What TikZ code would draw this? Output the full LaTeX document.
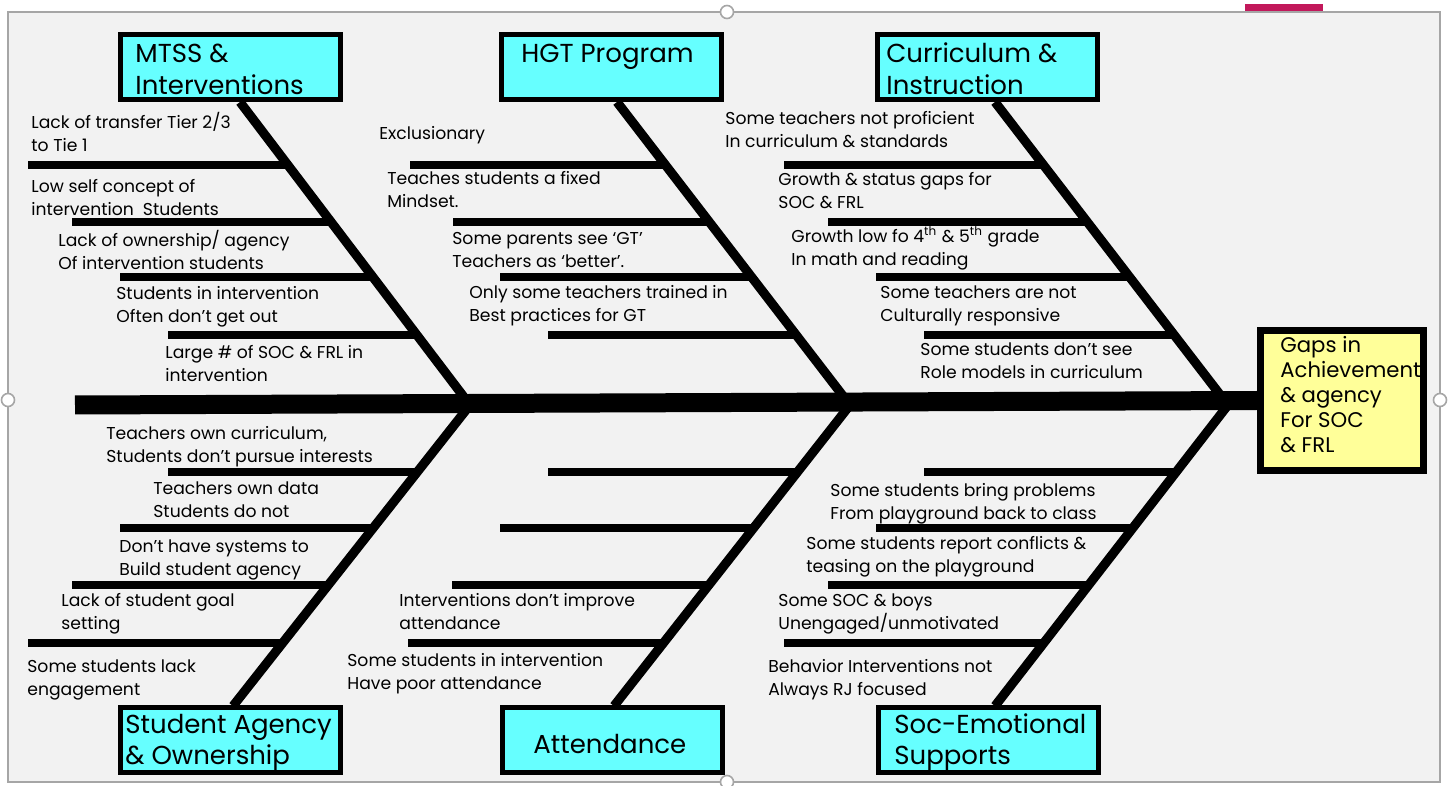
\documentclass[tikz,border=0pt]{standalone}
\usepackage{fontspec}
\setmainfont{Poppins}
\usetikzlibrary{calc}
\definecolor{bg}{HTML}{F2F2F2}
\definecolor{cyanbox}{HTML}{66FFFF}
\definecolor{yellowbox}{HTML}{FFFF99}
\definecolor{framegray}{HTML}{A6A6A6}
\definecolor{magentabar}{HTML}{C2185B}
\tikzset{
  catbox/.style={draw=black, line width=2.5pt, fill=cyanbox, minimum width=110pt, minimum height=32.5pt, inner sep=0pt},
  effbox/.style={draw=black, line width=3.5pt, fill=yellowbox, minimum width=81.5pt, minimum height=70pt, inner sep=0pt},
  cattext/.style={font=\fontsize{13}{15.8}\selectfont, align=left, inner sep=0pt, anchor=base west},
  cattexttwo/.style={cattext, yshift=-15.8pt},
  efftext/.style={font=\fontsize{10.6}{12.4}\selectfont, align=left, inner sep=0pt, anchor=base west, yshift=-49.6pt},
  lblone/.style={font=\fontsize{8.6}{11.3}\selectfont, align=left, inner sep=0pt, anchor=base west},
  lbl/.style={lblone, yshift=-11.3pt},
  spineline/.style={line width=9.5pt},
  boneline/.style={line width=4.6pt},
  ribline/.style={line width=4pt},
  handle/.style={draw=framegray, fill=white, line width=0.8pt}
}
\begin{document}
\begin{tikzpicture}[x=0.5pt,y=-0.5pt]
\useasboundingbox (0,0) rectangle (1448,786);
% frame
\fill[white] (0,0) rectangle (1448,786);
\draw[framegray, fill=bg, line width=0.8pt] (8,12) rectangle (1440,782);
\fill[magentabar] (1245,4) rectangle (1323,11);

% boxes (nodes)
\node[effbox] (eff) at (1342,400.5) {};
\node[catbox] (mtss) at (230.5,67.5) {};
\node[catbox] (hgt) at (611,67.5) {};
\node[catbox] (cur) at (987.5,67.5) {};
\node[catbox] (sa) at (230.5,740) {};
\node[catbox] (att) at (612,740) {};
\node[catbox] (soc) at (988,740) {};

% key points
\coordinate (tail) at (75,405);
\coordinate (j1) at (470,405);
\coordinate (j2) at (850,405);
\coordinate (j3) at (1228,405);
\coordinate (t1) at (240,102);
\coordinate (t2) at (617,102);
\coordinate (t3) at (995,102);
\coordinate (u1) at (233,706);
\coordinate (u2) at (614,706);
\coordinate (u3) at (995,706);

% spine
\draw[spineline] (tail) -- (eff.west);
% bones
\draw[boneline] (t1) -- (j1);
\draw[boneline] (t2) -- (j2);
\draw[boneline] (t3) -- (j3);
\draw[boneline] (j1) -- (u1);
\draw[boneline] (j2) -- (u2);
\draw[boneline] (j3) -- (u3);
% ribs on top bones
\foreach \tp/\jp/\grp/\data in {t1/j1/a/{165/28,222/72,277/120,335/168},
                                 t2/j2/b/{165/410,222/453,277/500,335/548},
                                 t3/j3/c/{165/784,222/828,277/876,335/924}}{
  \foreach \yy/\xx [count=\i] in \data {
    \pgfmathsetmacro\tt{(\yy-102)/303}
    \coordinate (\grp p\i) at ($(\tp)!\tt!(\jp)$);
    \coordinate (\grp r\i) at (\xx,\yy);
    \draw[ribline] (\grp r\i) -- (\grp r\i -| \grp p\i);
  }
}
% ribs on bottom bones
\foreach \jp/\up/\grp/\data in {j1/u1/d/{472/168,528/120,585/72,643/28},
                                 j2/u2/e/{472/548,528/500,585/452,643/408},
                                 j3/u3/f/{472/924,528/876,585/828,643/784}}{
  \foreach \yy/\xx [count=\i] in \data {
    \pgfmathsetmacro\tt{(\yy-405)/301}
    \coordinate (\grp p\i) at ($(\jp)!\tt!(\up)$);
    \coordinate (\grp r\i) at (\xx,\yy);
    \draw[ribline] (\grp r\i) -- (\grp r\i -| \grp p\i);
  }
}

% redraw boxes on top
\node[effbox] at (eff) {};
\node[catbox] at (mtss) {};
\node[catbox] at (hgt) {};
\node[catbox] at (cur) {};
\node[catbox] at (sa) {};
\node[catbox] at (att) {};
\node[catbox] at (soc) {};

% handles
\draw[handle] (727,12) circle (6.5);
\draw[handle] (8,400) circle (6.5);
\draw[handle] (1440,400) circle (6.5);
\draw[handle] (727,782) circle (6.5);

% box texts
\node[cattexttwo] (mtsst) at (135,63) {MTSS \&\\Interventions};
\node[cattext] (hgtt) at (521,63) {HGT Program};
\node[cattexttwo] (curt) at (886,63) {Curriculum \&\\Instruction};
\node[cattexttwo] (sat) at (125,733) {Student Agency\\\& Ownership};
\node[cattext] (attt) at (533,753) {Attendance};
\node[cattexttwo] (soct) at (894,733) {Soc-Emotional\\Supports};
\node[efftext] (efft) at (1280,353) {Gaps in\\Achievement\\\& agency\\For SOC\\\& FRL};

% MTSS labels
\node[lbl] (m1) at (31,129) {Lack of transfer Tier 2/3\\to Tie 1};
\node[lbl] (m2) at (31,193) {Low self concept of\\intervention\ \ Students};
\node[lbl] (m3) at (58,247) {Lack of ownership/ agency\\Of intervention students};
\node[lbl] (m4) at (116,300) {Students in intervention\\Often don’t get out};
\node[lbl] (m5) at (165,359) {Large \# of SOC \& FRL in\\intervention};
% HGT labels
\node[lblone] (h1) at (379,140) {Exclusionary};
\node[lbl] (h2) at (387,185) {Teaches students a fixed\\Mindset.};
\node[lbl] (h3) at (452,245) {Some parents see ‘GT’\\Teachers as ‘better’.};
\node[lbl] (h4) at (469,299) {Only some teachers trained in\\Best practices for GT};
% Curriculum labels
\node[lbl] (c1) at (725,125) {Some teachers not proficient\\In curriculum \& standards};
\node[lbl] (c2) at (778,186) {Growth \& status gaps for\\SOC \& FRL};
\node[lbl] (c3) at (791,243) {Growth low fo 4\textsuperscript{th} \& 5\textsuperscript{th} grade\\In math and reading};
\node[lbl] (c4) at (880,299) {Some teachers are not\\Culturally responsive};
\node[lbl] (c5) at (920,356) {Some students don’t see\\Role models in curriculum};
% Student agency labels
\node[lbl] (s1) at (106,440) {Teachers own curriculum,\\Students don’t pursue interests};
\node[lbl] (s2) at (153,495) {Teachers own data\\Students do not};
\node[lbl] (s3) at (119,553) {Don’t have systems to\\Build student agency};
\node[lbl] (s4) at (61,607) {Lack of student goal\\setting};
\node[lbl] (s5) at (27,673) {Some students lack\\engagement};
% Attendance labels
\node[lbl] (a1) at (399,607) {Interventions don’t improve\\attendance};
\node[lbl] (a2) at (347,667) {Some students in intervention\\Have poor attendance};
% Soc-emotional labels
\node[lbl] (e1) at (830,497) {Some students bring problems\\From playground back to class};
\node[lbl] (e2) at (806,550) {Some students report conflicts \&\\teasing on the playground};
\node[lbl] (e3) at (778,607) {Some SOC \& boys\\Unengaged/unmotivated};
\node[lbl] (e4) at (768,673) {Behavior Interventions not\\Always RJ focused};
\end{tikzpicture}
\end{document}
